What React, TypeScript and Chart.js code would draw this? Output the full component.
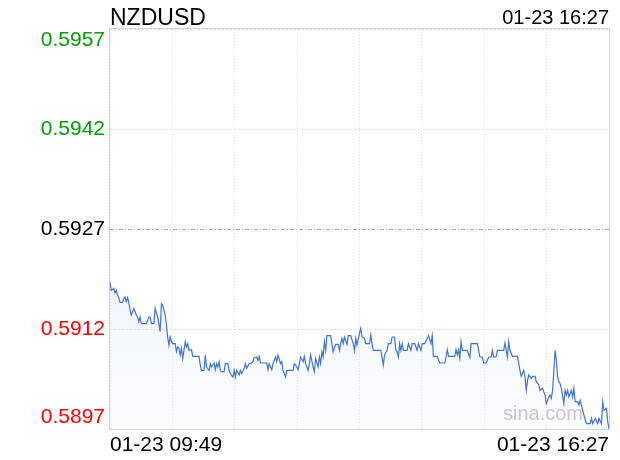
import { useEffect, useRef } from 'react';
import { Chart, registerables } from 'chart.js';

Chart.register(...registerables);

const symbol = 'NZDUSD';
const stamp = '01-23 16:27';
const xLabels = ['01-23 09:49', '01-23 16:27'];
const totalMinutes = 398;
const xDivisions = 8;
const yTicks = [0.5897, 0.5912, 0.5927, 0.5942, 0.5957];
const prevClose = 0.5927;
const watermark = 'sina.com';

// minutes after 09:49
const minutes = [
  0, 1, 3, 4, 5, 6, 7, 8, 10, 11, 12, 13, 14, 15, 16, 17, 19, 21, 22, 23, 24, 25, 29, 31, 32, 33, 35, 36, 38, 39,
  40, 41, 42, 44, 45, 46, 47, 48, 49, 50, 52, 53, 54, 55, 56, 57, 58, 59, 60, 61, 62, 63, 65, 66, 71, 72, 73, 75, 76, 77,
  79, 80, 81, 83, 84, 85, 86, 87, 88, 89, 91, 92, 94, 95, 96, 98, 99, 100, 101, 103, 104, 105, 107, 108, 109, 111, 112, 114, 115, 117,
  118, 119, 120, 125, 126, 127, 129, 130, 131, 132, 133, 134, 136, 137, 138, 140, 141, 146, 147, 148, 150, 151, 152, 154, 155, 156, 158, 159, 160, 162,
  163, 164, 166, 167, 168, 169, 170, 171, 172, 173, 176, 177, 178, 180, 182, 183, 184, 185, 186, 187, 189, 190, 192, 194, 195, 196, 197, 199, 200, 201,
  203, 204, 207, 208, 209, 210, 216, 217, 218, 219, 221, 222, 224, 225, 227, 228, 229, 230, 231, 232, 233, 234, 237, 238, 240, 241, 243, 245, 246, 248,
  249, 251, 253, 254, 256, 257, 258, 261, 263, 267, 268, 269, 270, 275, 276, 277, 278, 279, 280, 281, 285, 287, 288, 293, 295, 297, 298, 300, 302, 304,
  305, 306, 308, 309, 314, 315, 317, 318, 319, 321, 325, 326, 327, 328, 330, 331, 332, 333, 334, 336, 337, 339, 340, 342, 343, 345, 346, 347, 348, 350,
  351, 352, 353, 354, 355, 356, 357, 358, 359, 360, 362, 363, 364, 365, 366, 368, 369, 370, 371, 373, 374, 375, 377, 378, 380, 383, 384, 385, 387, 389,
  390, 392, 393, 394, 396, 397, 398,
];

const prices = [
  0.5919, 0.59178, 0.59181, 0.59174, 0.59178, 0.59171, 0.59167, 0.5916, 0.5916, 0.59166, 0.59168, 0.59161, 0.59167, 0.5916, 0.59148, 0.59141, 0.59151, 0.59141, 0.59138, 0.59131, 0.59138, 0.59128, 0.59128, 0.59138, 0.59138, 0.59128, 0.59128, 0.59151, 0.59138, 0.59128,
  0.59116, 0.59158, 0.59156, 0.59141, 0.59126, 0.59108, 0.59096, 0.59108, 0.59101, 0.59098, 0.59098, 0.59086, 0.59093, 0.59091, 0.59081, 0.59091, 0.59076, 0.59088, 0.59101, 0.59093, 0.59098, 0.59088, 0.59089, 0.59079, 0.59079, 0.59066, 0.59058, 0.59058, 0.59081, 0.59063,
  0.59058, 0.59068, 0.59063, 0.59069, 0.59059, 0.59068, 0.59063, 0.59071, 0.59058, 0.59056, 0.59056, 0.59068, 0.59068, 0.59058, 0.59053, 0.59048, 0.59058, 0.59048, 0.59058, 0.59051, 0.59058, 0.59053, 0.59061, 0.59068, 0.59061, 0.59068, 0.59068, 0.59071, 0.59077, 0.59078,
  0.59073, 0.59079, 0.59069, 0.59069, 0.59059, 0.59068, 0.59059, 0.59068, 0.59073, 0.59078, 0.59071, 0.59081, 0.59068, 0.59071, 0.59058, 0.59048, 0.59058, 0.59058, 0.59068, 0.59066, 0.59059, 0.59068, 0.59078, 0.59071, 0.59079, 0.59068, 0.59058, 0.59068, 0.59081, 0.59063,
  0.59056, 0.59076, 0.59063, 0.59078, 0.59068, 0.59086, 0.59078, 0.59101, 0.59088, 0.5911, 0.5911, 0.59098, 0.59086, 0.59097, 0.59097, 0.59088, 0.59098, 0.59106, 0.59098, 0.59108, 0.59097, 0.5911, 0.5911, 0.59098, 0.59088, 0.59106, 0.59096, 0.59114, 0.59121, 0.59108,
  0.59106, 0.59098, 0.59098, 0.59111, 0.59098, 0.59088, 0.59088, 0.59078, 0.59066, 0.59081, 0.59088, 0.59098, 0.59098, 0.59108, 0.59108, 0.59088, 0.59086, 0.59078, 0.59098, 0.59088, 0.59098, 0.59088, 0.59088, 0.59098, 0.59088, 0.59098, 0.59098, 0.59088, 0.59098, 0.59088,
  0.59098, 0.59098, 0.59106, 0.5911, 0.59098, 0.5911, 0.59079, 0.59079, 0.59069, 0.59069, 0.59078, 0.59089, 0.59079, 0.59079, 0.59089, 0.59081, 0.59089, 0.59076, 0.59101, 0.59088, 0.59088, 0.59077, 0.59098, 0.59098, 0.59078, 0.59078, 0.59069, 0.59069, 0.59078, 0.59078,
  0.59088, 0.59078, 0.59078, 0.59088, 0.59088, 0.59099, 0.59078, 0.59101, 0.59088, 0.59079, 0.59079, 0.59069, 0.59058, 0.59049, 0.59058, 0.59048, 0.59028, 0.59043, 0.59051, 0.59046, 0.59049, 0.59049, 0.59041, 0.59036, 0.59028, 0.59031, 0.59026, 0.59021, 0.59008, 0.59018,
  0.59021, 0.59016, 0.59028, 0.59058, 0.59088, 0.59073, 0.59048, 0.59041, 0.59038, 0.59031, 0.59008, 0.59028, 0.59021, 0.59028, 0.59018, 0.59028, 0.59018, 0.59031, 0.59011, 0.59011, 0.59006, 0.59013, 0.58998, 0.58991, 0.58978, 0.58978, 0.58986, 0.58978, 0.58986, 0.58978,
  0.58986, 0.58978, 0.59011, 0.58998, 0.59001, 0.58981, 0.5897,
];

const FONT = '"Liberation Sans", Arial, Helvetica, sans-serif';

export default function App() {
  const ref = useRef<HTMLCanvasElement>(null);

  useEffect(() => {
    document.body.style.margin = '0';
    const canvas = ref.current;
    if (!canvas) return;

    const overlay = {
      id: 'overlay',
      beforeDatasetsDraw(chart: any) {
        const { ctx, chartArea: a, scales } = chart;
        ctx.save();
        const py = Math.round(scales.y.getPixelForValue(prevClose)) + 0.5;
        ctx.strokeStyle = '#a8a8a8';
        ctx.lineWidth = 1;
        ctx.setLineDash([4, 2, 1, 2]);
        ctx.beginPath();
        ctx.moveTo(a.left, py);
        ctx.lineTo(a.right, py);
        ctx.stroke();
        ctx.setLineDash([]);
        ctx.font = `20px ${FONT}`;
        ctx.fillStyle = '#c4c4c4';
        ctx.textAlign = 'right';
        ctx.textBaseline = 'alphabetic';
        ctx.fillText(watermark, a.right - 26, a.bottom - 9);
        ctx.restore();
      },
      afterDraw(chart: any) {
        const { ctx, chartArea: a, scales } = chart;
        ctx.save();
        ctx.strokeStyle = '#d4d4d4';
        ctx.lineWidth = 1;
        ctx.strokeRect(a.left - 0.5, a.top - 0.5, a.right - a.left + 1, a.bottom - a.top + 1);

        ctx.fillStyle = '#000';
        ctx.textBaseline = 'alphabetic';
        ctx.font = `23px ${FONT}`;
        ctx.textAlign = 'left';
        ctx.fillText(symbol, a.left, 25);
        ctx.font = `20px ${FONT}`;
        ctx.textAlign = 'right';
        ctx.fillText(stamp, a.right, 24);

        ctx.font = `21px ${FONT}`;
        ctx.textAlign = 'right';
        yTicks.forEach((v, i) => {
          const py = scales.y.getPixelForValue(v);
          ctx.fillStyle = v > prevClose ? '#00a000' : v < prevClose ? '#ff0000' : '#000000';
          if (i === 0) {
            ctx.textBaseline = 'alphabetic';
            ctx.fillText(v.toFixed(4), a.left - 5, py - 6);
          } else if (i === yTicks.length - 1) {
            ctx.textBaseline = 'top';
            ctx.fillText(v.toFixed(4), a.left - 5, py + 1);
          } else {
            ctx.textBaseline = 'middle';
            ctx.fillText(v.toFixed(4), a.left - 5, py);
          }
        });
        ctx.restore();
      },
    };

    const fillColor = (c: any) => {
      const { chart } = c;
      const a = chart.chartArea;
      if (!a) return 'rgba(200,220,250,0.2)';
      const top = chart.scales.y.getPixelForValue(Math.max(...prices));
      const g = chart.ctx.createLinearGradient(0, top, 0, a.bottom);
      g.addColorStop(0, 'rgba(200,220,250,0.28)');
      g.addColorStop(1, 'rgba(220,232,252,0.12)');
      return g;
    };

    const chart = new Chart(canvas, {
      type: 'line',
      data: {
        datasets: [
          {
            data: minutes.map((m, i) => ({ x: m, y: prices[i] })),
            borderColor: '#3f76d2',
            borderWidth: 1.2,
            pointRadius: 0,
            tension: 0,
            fill: 'start',
            backgroundColor: fillColor,
          },
        ],
      },
      options: {
        responsive: false,
        animation: false,
        layout: { padding: { top: 29, right: 11, left: 0, bottom: 0 } },
        plugins: { legend: { display: false }, tooltip: { enabled: false }, title: { display: false } },
        scales: {
          x: {
            type: 'linear',
            min: 0,
            max: totalMinutes,
            afterBuildTicks: (s: any) => {
              s.ticks = Array.from({ length: xDivisions + 1 }, (_, i) => ({ value: (i * totalMinutes) / xDivisions }));
            },
            afterFit: (s: any) => {
              s.height = 31;
            },
            ticks: {
              autoSkip: false,
              maxRotation: 0,
              align: 'inner',
              padding: 4,
              color: '#000',
              font: { size: 21, family: FONT },
              callback: (_v: any, i: number, arr: any[]) =>
                i === 0 ? xLabels[0] : i === arr.length - 1 ? xLabels[1] : '',
            },
            grid: { color: '#e0e0e0', drawTicks: false },
            border: { display: false, dash: [1, 2] },
          },
          y: {
            type: 'linear',
            min: yTicks[0],
            max: yTicks[yTicks.length - 1],
            afterBuildTicks: (s: any) => {
              s.ticks = yTicks.map((v) => ({ value: v }));
            },
            afterFit: (s: any) => {
              s.width = 110;
            },
            ticks: { display: false },
            grid: {
              drawTicks: false,
              color: (c: any) => (c.tick && c.tick.value === prevClose ? 'rgba(0,0,0,0)' : '#e0e0e0'),
            },
            border: { display: false, dash: [2, 2] },
          },
        },
      },
      plugins: [overlay],
    } as any);

    return () => chart.destroy();
  }, []);

  return <canvas ref={ref} width={620} height={460} style={{ display: 'block' }} />;
}
